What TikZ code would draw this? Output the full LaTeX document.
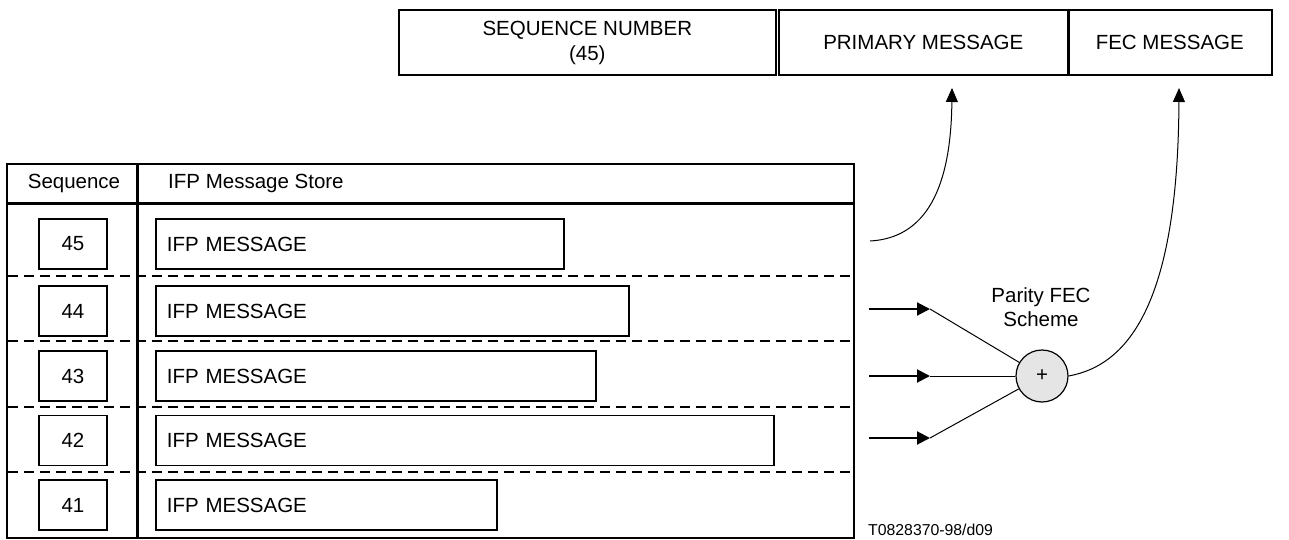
\documentclass[tikz,border=0pt]{standalone}
\usepackage{fontspec}
\setmainfont{Liberation Sans}
\usetikzlibrary{arrows.meta}
\begin{document}
\begin{tikzpicture}[x=1pt,y=-1pt,
  every node/.style={font=\fontsize{20.5}{24.5}\selectfont, inner sep=0pt},
  topbox/.style={draw, line width=1.6pt, minimum height=65pt, anchor=north west, align=center},
  seqbox/.style={draw, line width=1.6pt, minimum width=68pt, minimum height=50pt},
  msgbox/.style={draw, line width=1.6pt, minimum height=50pt, anchor=west, inner xsep=11pt, align=left},
  tabline/.style={line width=2pt},
  divline/.style={line width=3pt},
  dashline/.style={line width=2pt, dash pattern=on 10pt off 6pt},
  harrow/.style={line width=2pt, -{Triangle[length=13pt,width=13pt]}},
  thinline/.style={line width=1pt},
  carrow/.style={line width=1pt, -{Triangle[length=14pt,width=12pt]}},
  xorc/.style={circle, draw, line width=1.2pt, fill=black!10, minimum size=52pt}
]
\useasboundingbox (0,0) rectangle (1289,540);

% top message format
\node[topbox, minimum width=377pt] (seqnum) at (398,9.5) {SEQUENCE NUMBER\\(45)};
\node[topbox, minimum width=289pt] (primary) at (778,9.5) {PRIMARY MESSAGE};
\node[topbox, minimum width=204pt] (fec) at (1067,9.5) {FEC MESSAGE};
\draw[line width=2.8pt] (primary.north east) -- (primary.south east);

% table
\draw[tabline] (7,164) rectangle (854,538);
\draw[divline] (7,203) -- (854,203);
\draw[divline] (137,164) -- (137,538);
\foreach \y in {276,341,407,472} \draw[dashline] (8,\y) -- (853,\y);
\node (hseq) at (74,183.5) {Sequence};
\node[anchor=west] (hstore) at (168,183.5) {IFP Message Store};

\node[seqbox] (s45) at (73,244) {45};
\node[seqbox] (s44) at (73,311) {44};
\node[seqbox] (s43) at (73,376) {43};
\node[seqbox] (s42) at (73,440.5) {42};
\node[seqbox] (s41) at (73,505) {41};

\node[msgbox, text width=386pt] (m45) at (155,244) {IFP MESSAGE};
\node[msgbox, text width=451pt] (m44) at (155,311) {IFP MESSAGE};
\node[msgbox, text width=418pt] (m43) at (155,376) {IFP MESSAGE};
\node[msgbox, text width=596pt] (m42) at (155,440.5) {IFP MESSAGE};
\node[msgbox, text width=319pt] (m41) at (155,505) {IFP MESSAGE};

% parity FEC scheme
\node[xorc] (xor) at (1042,376) {+};
\node[align=center] (scheme) at (1041,307) {Parity FEC\\Scheme};

\coordinate (i44) at (869,309);
\coordinate (t44) at (930,309);
\coordinate (i43) at (869,376);
\coordinate (t43) at (930,376);
\coordinate (i42) at (869,438);
\coordinate (t42) at (930,438);
\draw[harrow] (i44) -- (t44);
\draw[harrow] (i43) -- (t43);
\draw[harrow] (i42) -- (t42);
\draw[thinline] (t44) -- (xor);
\draw[thinline] (t43) -- (xor);
\draw[thinline] (t42) -- (xor);

\coordinate (pstart) at (870,241);
\coordinate (ptip) at (952,88);
\coordinate (ftip) at (1179,88);
\draw[carrow] (pstart) .. controls (925,238) and (951,190) .. (ptip);
\draw[carrow] (xor.east) .. controls (1130,365) and (1178,300) .. (ftip);

\node[anchor=base west, font=\fontsize{15.8}{18}\selectfont] (ref) at (868,535) {T0828370-98/d09};
\end{tikzpicture}
\end{document}
